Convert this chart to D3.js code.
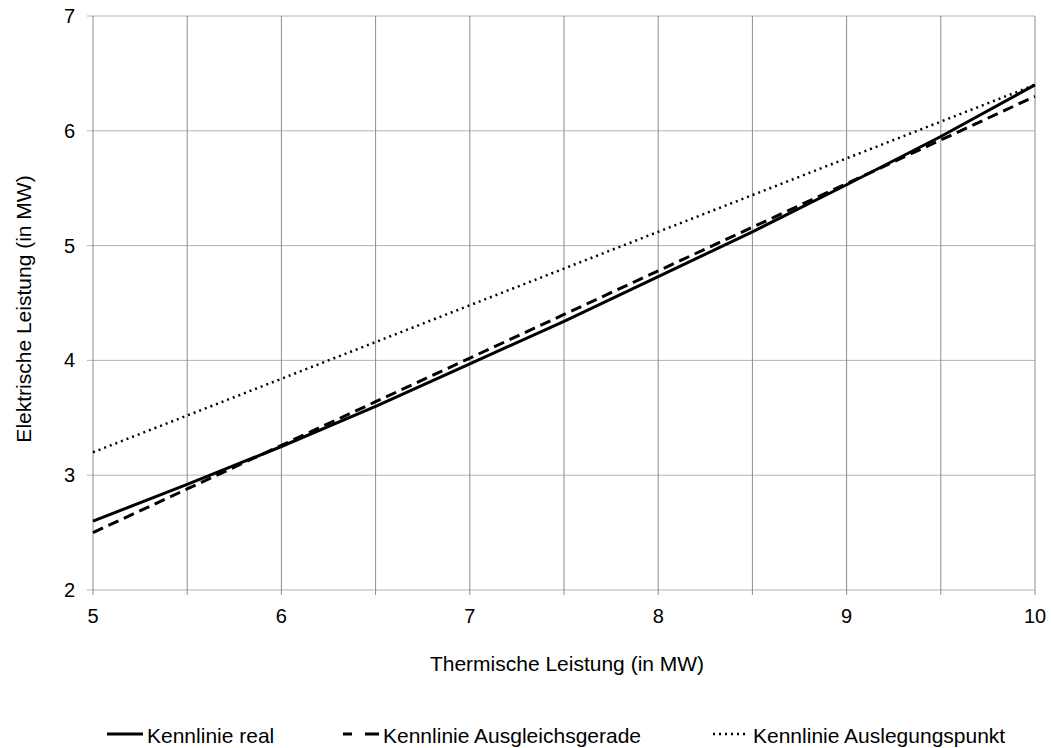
<!DOCTYPE html>
<html>
<head>
<meta charset="utf-8">
<script src="https://cdn.jsdelivr.net/npm/d3@7"></script>
<style>
  body { margin: 0; background: #fff; }
  text { font-family: "Liberation Sans", Arial, sans-serif; fill: #000; }
</style>
</head>
<body>
<svg id="chart" width="1051" height="748"></svg>
<script>
// Thermische Leistung (MW)
const thermal = [5, 5.5, 6, 6.5, 7, 7.5, 8, 8.5, 9, 9.5, 10];
// Kennlinie real (MW el.)
const realValues = [2.6, 2.92, 3.25, 3.6, 3.97, 4.34, 4.73, 5.12, 5.53, 5.95, 6.4];
// Kennlinie Ausgleichsgerade
const fitValues = [2.5, 2.88, 3.26, 3.64, 4.02, 4.4, 4.78, 5.16, 5.54, 5.92, 6.3];
// Kennlinie Auslegungspunkt
const designValues = [3.2, 3.52, 3.84, 4.16, 4.48, 4.8, 5.12, 5.44, 5.76, 6.08, 6.4];

const xTicks = [5, 6, 7, 8, 9, 10];
const xGrid = [5, 5.5, 6, 6.5, 7, 7.5, 8, 8.5, 9, 9.5, 10];
const yTicks = [2, 3, 4, 5, 6, 7];

const seriesNames = ["Kennlinie real", "Kennlinie Ausgleichsgerade", "Kennlinie Auslegungspunkt"];

const svg = d3.select("#chart");
const plotLeft = 93, plotRight = 1035, plotTop = 16, plotBottom = 590;

const x = d3.scaleLinear().domain([5, 10]).range([plotLeft, plotRight]);
const y = d3.scaleLinear().domain([2, 7]).range([plotBottom, plotTop]);

// gridlines
svg.append("g").selectAll("line").data(yTicks).join("line")
  .attr("x1", plotLeft - 6).attr("x2", plotRight)
  .attr("y1", d => y(d)).attr("y2", d => y(d))
  .attr("stroke", "#b3b3b3").attr("stroke-width", 1);

svg.append("g").selectAll("line").data(xGrid).join("line")
  .attr("x1", d => x(d)).attr("x2", d => x(d))
  .attr("y1", plotTop).attr("y2", plotBottom + 5)
  .attr("stroke", "#8c8c8c").attr("stroke-width", 1);

// tick labels
svg.append("g").selectAll("text").data(yTicks).join("text")
  .attr("x", plotLeft - 18).attr("y", d => y(d) + 7)
  .attr("text-anchor", "end").attr("font-size", 20).text(d => d);

svg.append("g").selectAll("text").data(xTicks).join("text")
  .attr("x", d => x(d)).attr("y", 623)
  .attr("text-anchor", "middle").attr("font-size", 20).text(d => d);

// axis titles
svg.append("text").attr("x", 567).attr("y", 671)
  .attr("text-anchor", "middle").attr("font-size", 21)
  .text("Thermische Leistung (in MW)");

svg.append("text")
  .attr("transform", "translate(31,309) rotate(-90)")
  .attr("text-anchor", "middle").attr("font-size", 21)
  .text("Elektrische Leistung (in MW)");

const line = d3.line().x(d => x(d[0])).y(d => y(d[1]));
const styles = [
  { dash: null, width: 3 },
  { dash: "11,6", width: 3 },
  { dash: "2,4", width: 2.5 }
];
const legendDash = [null, "9,13,14", "2,4"];
const allSeries = [realValues, fitValues, designValues];

// draw dotted first so solid stays on top
[2, 1, 0].forEach(i => {
  svg.append("path")
    .datum(thermal.map((t, k) => [t, allSeries[i][k]]))
    .attr("d", line)
    .attr("fill", "none")
    .attr("stroke", "#000")
    .attr("stroke-width", styles[i].width)
    .attr("stroke-dasharray", styles[i].dash);
});

// legend
const legendX = [107, 343, 713];
const legendY = 743;
seriesNames.forEach((name, i) => {
  const g = svg.append("g");
  g.append("line")
    .attr("x1", legendX[i]).attr("x2", legendX[i] + 36)
    .attr("y1", legendY - 9).attr("y2", legendY - 9)
    .attr("stroke", "#000")
    .attr("stroke-width", styles[i].width)
    .attr("stroke-dasharray", legendDash[i]);
  g.append("text")
    .attr("x", legendX[i] + 40).attr("y", legendY)
    .attr("font-size", 21).text(name);
});
</script>
</body>
</html>
